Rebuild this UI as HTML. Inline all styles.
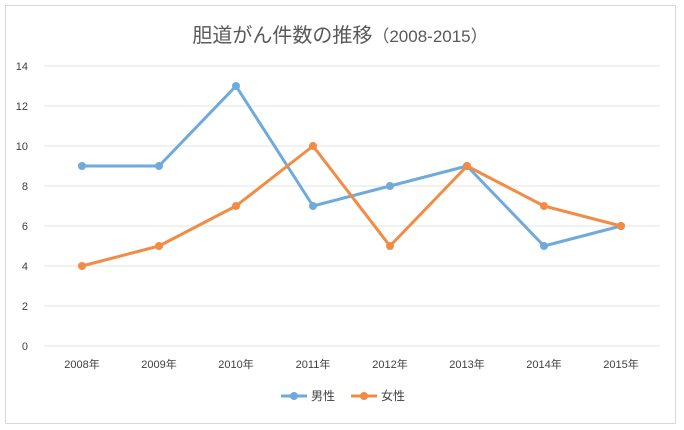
<!DOCTYPE html>
<html><head><meta charset="utf-8"><style>
body{margin:0;background:#fff;}
svg{display:block;font-family:"Liberation Sans","Noto Sans CJK JP",sans-serif;}
</style></head><body>
<svg id="chart" width="684" height="430">
<rect x="5.5" y="5.5" width="670" height="418" fill="#fff" stroke="#d9d9d9"/>
<text x="340" y="42" text-anchor="middle" font-size="20" fill="#595959">胆道がん件数の推移<tspan font-size="17">（2008-2015）</tspan></text>
<g id="grid"></g><g id="series"></g>
<g>
<g><line x1="281" y1="396" x2="307" y2="396" stroke="#6faadb" stroke-width="3"/><circle cx="294" cy="396" r="4" fill="#6faadb"/><text x="311" y="400" font-size="12" fill="#404040">男性</text></g>
<g><line x1="351" y1="396" x2="377" y2="396" stroke="#f28c45" stroke-width="3"/><circle cx="364" cy="396" r="4" fill="#f28c45"/><text x="381" y="400" font-size="12" fill="#404040">女性</text></g>
</g>
</svg>
<script>
const categories=["2008年","2009年","2010年","2011年","2012年","2013年","2014年","2015年"];
const maleValues=[9,9,13,7,8,9,5,6];
const femaleValues=[4,5,7,10,5,9,7,6];
const yTicks=[0,2,4,6,8,10,12,14];
const NS="http://www.w3.org/2000/svg";
const x=i=>82+i*77;
const y=v=>346-v*20;
function mk(t,a,p){const e=document.createElementNS(NS,t);for(const k in a)e.setAttribute(k,a[k]);p.appendChild(e);return e;}
const g=document.getElementById('grid');
yTicks.forEach(v=>{
 const l=mk('line',{x1:44,x2:660,y1:y(v),y2:y(v),stroke:'#e3e3e3','stroke-width':1},g);
 
 
 const t=mk('text',{x:28,y:y(v)+4,'text-anchor':'end','font-size':11,fill:'#404040'},g);
 t.textContent=v;
 
 
});
categories.forEach((c,i)=>{
 const t=mk('text',{x:x(i),y:368,'text-anchor':'middle','font-size':11,fill:'#404040'},g);
 t.textContent=c;
 
 
});
const s=document.getElementById('series');
function draw(vals,color,name){
 const p=mk('polyline',{points:vals.map((v,i)=>x(i)+','+y(v)).join(' '),fill:'none',stroke:color,'stroke-width':3,'stroke-linejoin':'round'},s);
 
 
 vals.forEach((v,i)=>{
  const c=mk('circle',{cx:x(i),cy:y(v),r:4,fill:color},s);
  
  
 });
}
draw(maleValues,'#6faadb','male');
draw(femaleValues,'#f28c45','female');
</script>
</body></html>
